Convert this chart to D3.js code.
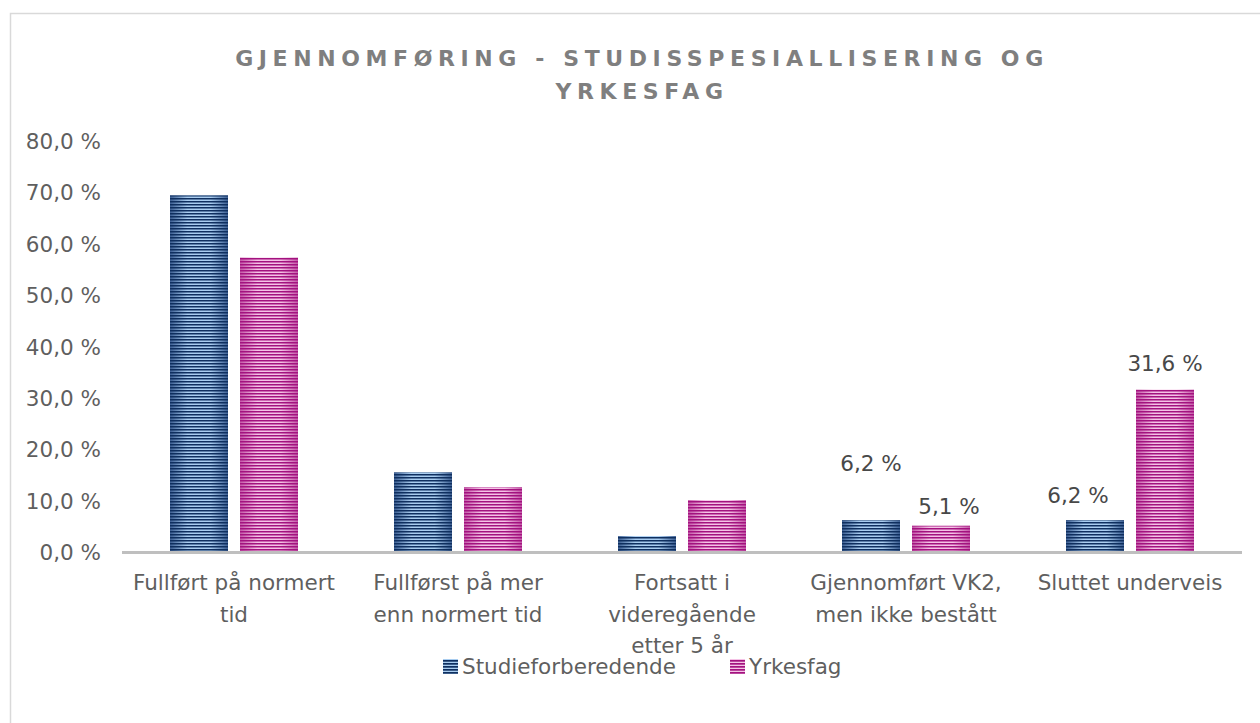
<!DOCTYPE html>
<html><head><meta charset="utf-8">
<script src="https://cdn.jsdelivr.net/npm/d3@7"></script>
<style>
html,body{margin:0;padding:0;background:#fff;}
svg{display:block;}
text{font-family:'DejaVu Sans',sans-serif;}
</style></head>
<body>
<svg id="chart" width="1260" height="723"></svg>
<script>
const categories = [
  ["Fullført på normert", "tid"],
  ["Fullførst på mer", "enn normert tid"],
  ["Fortsatt i", "videregående", "etter 5 år"],
  ["Gjennomført VK2,", "men ikke bestått"],
  ["Sluttet underveis"]
];
const seriesNames = ["Studieforberedende", "Yrkesfag"];
const studieforberedende = [69.4, 15.5, 3.1, 6.2, 6.2];
const yrkesfag = [57.3, 12.6, 10.1, 5.1, 31.6];
const yTicks = [0, 10, 20, 30, 40, 50, 60, 70, 80];
// which bars carry a data label [seriesIndex, categoryIndex]
const labelled = [[0,3],[1,3],[0,4],[1,4]];
const titleLines = ["GJENNOMFØRING - STUDISSPESIALLISERING OG", "YRKESFAG"];

// style / layout constants
const FS = 21.5;
const TXT = "#5f5f5f";
const labelShift = {"0-3":[0,-57],"1-3":[8,-19],"0-4":[-17,-25],"1-4":[0,-26]};
const colors = [
  {dark:"#0f2f5f", light:"#a9cdf0", edge:"#3d5f93"},
  {dark:"#a3127f", light:"#f5c3e6", edge:"#c45aa8"}
];

const svg = d3.select("#chart");
const defs = svg.append("defs");
colors.forEach((c,i)=>{
  const g = defs.append("linearGradient").attr("id","grad"+i).attr("x1","0").attr("x2","1").attr("y1","0").attr("y2","0");
  g.append("stop").attr("offset","0").attr("stop-color",c.edge);
  g.append("stop").attr("offset","0.3").attr("stop-color",c.light);
  g.append("stop").attr("offset","0.7").attr("stop-color",c.light);
  g.append("stop").attr("offset","1").attr("stop-color",c.edge);
  const p = defs.append("pattern").attr("id","stripe"+i).attr("patternUnits","userSpaceOnUse")
    .attr("width",8).attr("height",3);
  p.append("rect").attr("x",0).attr("y",0).attr("width",8).attr("height",1.5).attr("fill",c.dark);
  const pl = defs.append("pattern").attr("id","lstripe"+i).attr("patternUnits","userSpaceOnUse")
    .attr("width",8).attr("height",3);
  pl.append("rect").attr("width",8).attr("height",3).attr("fill",c.light);
  pl.append("rect").attr("x",0).attr("y",0).attr("width",8).attr("height",1.7).attr("fill",c.dark);
});

// frame
svg.append("path").attr("d","M10.5,723 L10.5,13.5 L1260,13.5").attr("fill","none").attr("stroke","#d9d9d9").attr("stroke-width",1.5);

// title
svg.append("g").selectAll("text").data(titleLines).join("text")
  .attr("x",642).attr("y",(d,i)=>66+i*33)
  .attr("text-anchor","middle").attr("fill","#7f7f7f")
  .attr("font-size",22).attr("font-weight",700).attr("letter-spacing",5.6)
  .text(d=>d);

const x0 = d3.scaleBand().domain(d3.range(categories.length)).range([122,1242]).padding(0);
const x1 = d3.scaleBand().domain(d3.range(seriesNames.length)).range([48,176]).paddingInner(12/70).paddingOuter(0);
const y = d3.scaleLinear().domain([0,80]).range([552,141]);

// y axis labels
const fmt = v => d3.format(".1f")(v).replace(".",",") + " %";
const yAxis = d3.axisLeft(y).tickValues(yTicks).tickFormat(fmt).tickSize(0).tickPadding(0);
const yg = svg.append("g").attr("transform","translate(101,0)").call(yAxis);
yg.select(".domain").remove();
yg.selectAll("text").attr("font-size",FS).attr("fill",TXT).attr("font-family","'DejaVu Sans', sans-serif").attr("dy","0.35em");

const data = [studieforberedende, yrkesfag];
const groups = svg.append("g").selectAll("g").data(categories).join("g")
  .attr("transform",(d,i)=>`translate(${x0(i)},0)`);
groups.each(function(cat,ci){
  const g = d3.select(this);
  data.forEach((vals,si)=>{
    const v = vals[ci];
    g.append("rect").attr("x",x1(si)).attr("y",y(v)).attr("width",x1.bandwidth()).attr("height",y(0)-y(v))
      .attr("fill",`url(#grad${si})`);
    g.append("rect").attr("x",x1(si)).attr("y",y(v)).attr("width",x1.bandwidth()).attr("height",y(0)-y(v))
      .attr("fill",`url(#stripe${si})`);
  });
});

// x axis line
svg.append("line").attr("x1",x0.range()[0]).attr("x2",x0.range()[1]).attr("y1",y(0)+0.5).attr("y2",y(0)+0.5)
  .attr("stroke","#bfbfbf").attr("stroke-width",3);

// category labels
groups.each(function(cat,ci){
  d3.select(this).append("text").attr("text-anchor","middle").attr("fill",TXT).attr("font-size",FS)
    .selectAll("tspan").data(cat).join("tspan")
    .attr("x",x0.bandwidth()/2).attr("y",(d,i)=>590+i*31.5).text(d=>d);
});

// data labels
labelled.forEach(([si,ci])=>{
  const v = data[si][ci];
  const sh = labelShift[si+"-"+ci];
  svg.append("text").attr("text-anchor","middle").attr("fill","#484848").attr("font-size",FS)
    .attr("x",x0(ci)+x1(si)+x1.bandwidth()/2+sh[0]).attr("y",y(v)+sh[1]).attr("dy","0.35em")
    .text(fmt(v));
});

// legend
const legendX = [443, 730];
const lg = svg.append("g").selectAll("g").data(seriesNames).join("g")
  .attr("transform",(d,i)=>`translate(${legendX[i]},666)`);
lg.append("rect").attr("x",0).attr("y",-7).attr("width",15).attr("height",15).attr("fill",(d,i)=>`url(#lstripe${i})`);
lg.append("text").attr("x",19).attr("y",0).attr("dy","0.35em").attr("fill",TXT).attr("font-size",FS).text(d=>d);
</script>
</body></html>
